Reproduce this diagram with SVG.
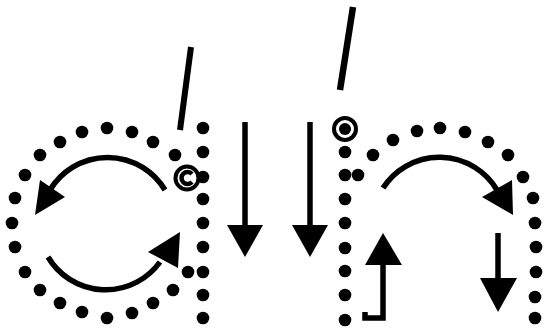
<svg xmlns="http://www.w3.org/2000/svg" width="545" height="331" viewBox="0 0 545 331">
<style>
.d{fill:#000}
.s{fill:none;stroke:#000;stroke-width:5.5}
.h{fill:#000}
</style>
<rect width="545" height="331" fill="#fff"/>
<g id="left-ring">
<circle class="d" cx="82" cy="132" r="6.3"/><circle class="d" cx="107" cy="128" r="6.3"/><circle class="d" cx="132" cy="132" r="6.3"/>
<circle class="d" cx="153" cy="142" r="6.3"/><circle class="d" cx="175" cy="155" r="6.3"/><circle class="d" cx="60" cy="142" r="6.3"/>
<circle class="d" cx="40" cy="155" r="6.3"/><circle class="d" cx="25" cy="175" r="6.3"/><circle class="d" cx="15" cy="198" r="6.3"/>
<circle class="d" cx="12" cy="223" r="6.3"/><circle class="d" cx="15" cy="247" r="6.3"/><circle class="d" cx="25" cy="272" r="6.3"/>
<circle class="d" cx="40" cy="290" r="6.3"/><circle class="d" cx="60" cy="303" r="6.3"/><circle class="d" cx="82" cy="312" r="6.3"/>
<circle class="d" cx="107" cy="318" r="6.3"/><circle class="d" cx="132" cy="313" r="6.3"/><circle class="d" cx="153" cy="303" r="6.3"/>
<circle class="d" cx="173" cy="290" r="6.3"/><circle class="d" cx="188" cy="272" r="6.3"/>
</g>
<g id="left-column">
<circle class="d" cx="203" cy="128" r="6.3"/><circle class="d" cx="203" cy="152" r="6.3"/>
<circle class="d" cx="203" cy="199" r="6.3"/><circle class="d" cx="203" cy="223" r="6.3"/><circle class="d" cx="203" cy="247" r="6.3"/>
<circle class="d" cx="203" cy="272" r="6.3"/><circle class="d" cx="203" cy="295" r="6.3"/><circle class="d" cx="203" cy="318" r="6.3"/>
</g>
<g id="copyright-mark">
<circle cx="187" cy="178" r="11.5" fill="#fff" stroke="#000" stroke-width="4"/>
<circle class="d" cx="203" cy="177" r="6.3"/>
<path d="M192,174 A6,6 0 1 0 192,182" fill="none" stroke="#000" stroke-width="4.5"/>
<line x1="191" y1="47" x2="180" y2="130" stroke="#000" stroke-width="6"/>
</g>
<g id="middle-column">
<circle cx="345" cy="129" r="11" fill="#fff" stroke="#000" stroke-width="4"/>
<circle class="d" cx="345" cy="129" r="6"/>
<circle class="d" cx="345" cy="152" r="6.3"/><circle class="d" cx="345" cy="175" r="6.3"/><circle class="d" cx="358" cy="175" r="6.3"/>
<circle class="d" cx="345" cy="199" r="6.3"/><circle class="d" cx="345" cy="223" r="6.3"/><circle class="d" cx="345" cy="248" r="6.3"/>
<circle class="d" cx="345" cy="271" r="6.3"/><circle class="d" cx="345" cy="295" r="6.3"/><circle class="d" cx="345" cy="320" r="6.3"/>
<line x1="353" y1="7" x2="340" y2="90" stroke="#000" stroke-width="6.5"/>
</g>
<g id="right-ring">
<circle class="d" cx="373" cy="155" r="6.3"/><circle class="d" cx="393" cy="140" r="6.3"/><circle class="d" cx="417" cy="131" r="6.3"/>
<circle class="d" cx="440" cy="128" r="6.3"/><circle class="d" cx="465" cy="132" r="6.3"/><circle class="d" cx="488" cy="142" r="6.3"/>
<circle class="d" cx="508" cy="155" r="6.3"/><circle class="d" cx="523" cy="177" r="6.3"/><circle class="d" cx="533" cy="198" r="6.3"/>
<circle class="d" cx="535" cy="223" r="6.3"/><circle class="d" cx="536" cy="247" r="6.3"/><circle class="d" cx="536" cy="272" r="6.3"/>
<circle class="d" cx="535" cy="297" r="6.3"/><circle class="d" cx="535" cy="318" r="6.3"/>
</g>
<g id="connectors">
<path class="s" d="M165,190 A67,67 0 0 0 50,190"/>
<polygon class="h" points="35,215 40,180 65,197"/>
<path class="s" d="M48,257 A67,67 0 0 0 160,262"/>
<polygon class="h" points="180,232 148,252 178,268"/>
<line class="s" x1="245" y1="122" x2="245" y2="228"/>
<polygon class="h" points="227,225 263,225 245,257"/>
<line class="s" x1="310" y1="122" x2="310" y2="228"/>
<polygon class="h" points="292,225 328,225 310,257"/>
<path class="s" d="M383,188 A67,67 0 0 1 497,190"/>
<polygon class="h" points="513,215 482,197 512,180"/>
<line class="s" x1="498" y1="233" x2="498" y2="280"/>
<polygon class="h" points="480,278 517,278 498,312"/>
<path class="s" d="M383,262 V318 H365 V312"/>
<polygon class="h" points="383,233 365,265 402,265"/>
</g>
</svg>
